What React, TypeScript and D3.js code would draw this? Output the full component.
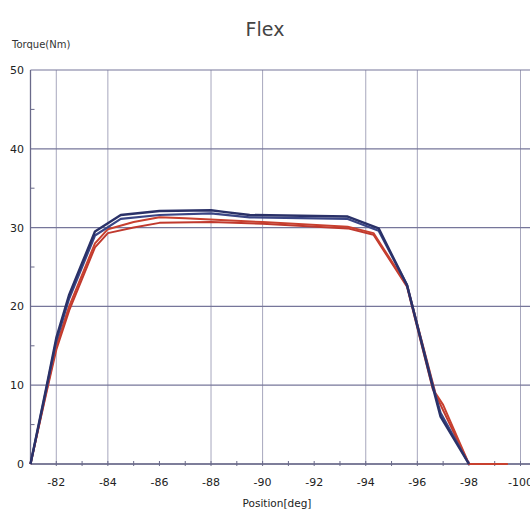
import React from "react";
import * as d3 from "d3";

const W = 530;
const H = 513;

const yTicks = [0, 10, 20, 30, 40, 50];
const yMinorTicks = [5, 15, 25, 35, 45];
const xTickLabels = [-82, -84, -86, -88, -90, -92, -94, -96, -98, -100];
const xGridLines = [-82, -84, -88, -90, -94, -96, -100];
const xMinorTicks = [-82, -83, -84, -85, -86, -87, -88, -89, -90, -91, -92, -93, -94, -95, -96, -97, -98, -99, -100];

const blue1X = [-81, -81.6, -82, -82.5, -83, -83.5, -84.5, -86, -88, -88.5, -89.5, -93.3, -94.5, -95.6, -96.5, -96.9, -98];
const blue1Y = [0, 9.5, 16, 21.5, 25.5, 29.5, 31.6, 32.1, 32.2, 32, 31.6, 31.4, 29.9, 22.7, 11, 6, 0];
const blue2X = [-81, -81.6, -82, -82.5, -83, -83.5, -84.5, -86, -88, -89.5, -93.3, -94.5, -95.6, -96.6, -96.9, -98];
const blue2Y = [0, 9.3, 15.6, 21, 25, 29, 31.1, 31.6, 31.8, 31.3, 31.1, 29.6, 22.7, 10, 6.5, 0];
const red1X = [-81, -81.6, -82, -82.5, -83, -83.5, -84, -85, -86, -87, -90, -93.3, -94.3, -95.6, -96.7, -97, -98, -99.5];
const red1Y = [0, 9, 15, 20, 24, 28, 29.8, 30.7, 31.3, 31.2, 30.7, 30.1, 29.3, 22.7, 9, 7.5, 0, 0];
const red2X = [-81, -81.6, -82, -82.5, -83, -83.5, -84, -85, -86, -88, -90, -93.3, -94.3, -95.6, -96.6, -96.9, -98, -99.5];
const red2Y = [0, 8.8, 14.5, 19.5, 23.5, 27.5, 29.3, 30, 30.6, 30.7, 30.5, 29.9, 29.1, 22.5, 9.5, 7.5, 0, 0];

const series = [
  { xs: red2X, ys: red2Y, color: "#c0392e", width: 2 },
  { xs: red1X, ys: red1Y, color: "#c8402f", width: 2 },
  { xs: blue2X, ys: blue2Y, color: "#3a4585", width: 2.2 },
  { xs: blue1X, ys: blue1Y, color: "#2a3168", width: 2.4 },
];

const FONT = "'DejaVu Sans', Verdana, sans-serif";

export default function App() {
  const x = d3.scaleLinear().domain([-81, -100]).range([30.5, 520.5]);
  const y = d3.scaleLinear().domain([0, 50]).range([464, 70]);
  const line = d3
    .line<[number, number]>()
    .x((d) => x(d[0]))
    .y((d) => y(d[1]));
  const left = x(-81);
  const right = W;

  return (
    <svg
      width={W}
      height={H}
      style={{ position: "absolute", left: 0, top: 0, background: "#fff" }}
      fontFamily={FONT}
    >
      <rect width={W} height={H} fill="#fff" />
      <text x={265} y={36} textAnchor="middle" fontSize={19} fill="#444">
        Flex
      </text>
      <text x={12} y={48} fontSize={10} fill="#333">
        Torque(Nm)
      </text>

      {/* vertical grid */}
      {xGridLines.map((v) => (
        <line key={"vg" + v} x1={x(v)} x2={x(v)} y1={y(50)} y2={y(0)} stroke="#a7a7bd" strokeWidth={1} />
      ))}
      {/* horizontal grid */}
      {yTicks.map((v) => (
        <line key={"hg" + v} x1={left} x2={right} y1={y(v)} y2={y(v)} stroke="#76769a" strokeWidth={1.2} />
      ))}
      {/* axes */}
      <line x1={left} x2={left} y1={y(50)} y2={y(0)} stroke="#6a6a8a" strokeWidth={1.3} />
      <line x1={left} x2={right} y1={y(0)} y2={y(0)} stroke="#6a6a8a" strokeWidth={1.3} />

      {yMinorTicks.map((v) => (
        <line key={"ym" + v} x1={left} x2={left + 4} y1={y(v)} y2={y(v)} stroke="#6a6a8a" strokeWidth={1} />
      ))}
      {xMinorTicks.map((v) => (
        <line key={"xm" + v} x1={x(v)} x2={x(v)} y1={y(0) - 3} y2={y(0) + 2} stroke="#6a6a8a" strokeWidth={1} />
      ))}

      {yTicks.map((v) => (
        <text key={"yl" + v} x={24} y={y(v) + 4} textAnchor="end" fontSize={11} fill="#222">
          {v}
        </text>
      ))}
      {xTickLabels.map((v) => (
        <text key={"xl" + v} x={x(v)} y={486} textAnchor="middle" fontSize={11} fill="#222">
          {String(v)}
        </text>
      ))}
      <text x={277} y={507} textAnchor="middle" fontSize={10.5} fill="#222">
        Position[deg]
      </text>

      {series.map((s, i) => (
        <path
          key={"s" + i}
          d={line(s.xs.map((xv, j) => [xv, s.ys[j]] as [number, number])) || ""}
          fill="none"
          stroke={s.color}
          strokeWidth={s.width}
          strokeLinejoin="round"
        />
      ))}
    </svg>
  );
}
